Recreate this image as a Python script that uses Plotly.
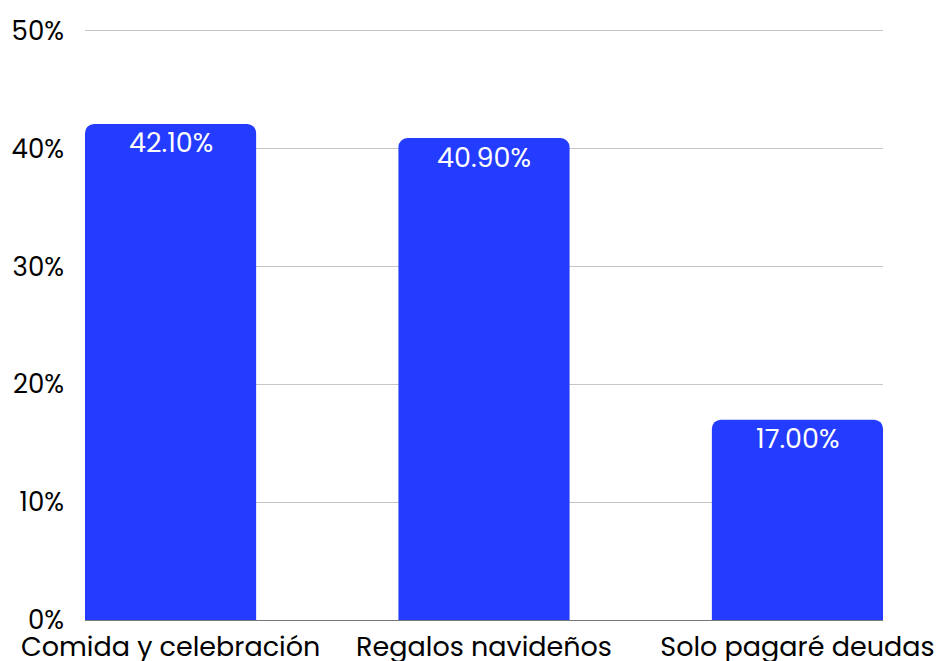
import plotly.graph_objects as go

categories = ["Comida y celebración", "Regalos navideños", "Solo pagaré deudas"]
values = [42.10, 40.90, 17.00]
ytick_vals = [0, 10, 20, 30, 40, 50]
ytick_text = ["0%", "10%", "20%", "30%", "40%", "50%"]

positions = list(range(len(categories)))
labels = [f"{v:.2f}%" for v in values]

FONT = "Poppins, Lato, 'Open Sans', sans-serif"

fig = go.Figure(go.Bar(
    x=positions, y=values, width=0.546,
    marker=dict(color="#243CFF", line=dict(width=0)),
    hoverinfo="skip",
))

for p, v, t in zip(positions, values, labels):
    fig.add_annotation(
        x=p, y=v, text=t, showarrow=False,
        yanchor="middle", yshift=-19,
        font=dict(color="white", size=27, family=FONT),
    )

fig.update_layout(
    width=936, height=661,
    margin=dict(l=85, r=53, t=27, b=41),
    paper_bgcolor="white", plot_bgcolor="white",
    barcornerradius=9,
    showlegend=False,
    font=dict(family=FONT, color="black"),
)
fig.update_xaxes(
    range=[-0.273, 2.273],
    tickvals=positions, ticktext=categories,
    tickfont=dict(size=27, color="black", family=FONT),
    showgrid=False, zeroline=False,
    showline=True, linecolor="#777777", linewidth=1,
    ticks="", ticklabelstandoff=3, automargin=False,
)
fig.update_yaxes(
    range=[0, 50.33],
    tickvals=ytick_vals, ticktext=ytick_text,
    tickfont=dict(size=26, color="black", family=FONT),
    showgrid=True, gridcolor="#C6C6C6", gridwidth=1,
    zeroline=False, showline=False,
    ticks="", ticklabelstandoff=20, automargin=False,
)

fig.write_html(
    "out.html",
    config={"displayModeBar": False},
    post_script="document.body.style.margin='0';document.body.style.overflow='hidden';",
)
